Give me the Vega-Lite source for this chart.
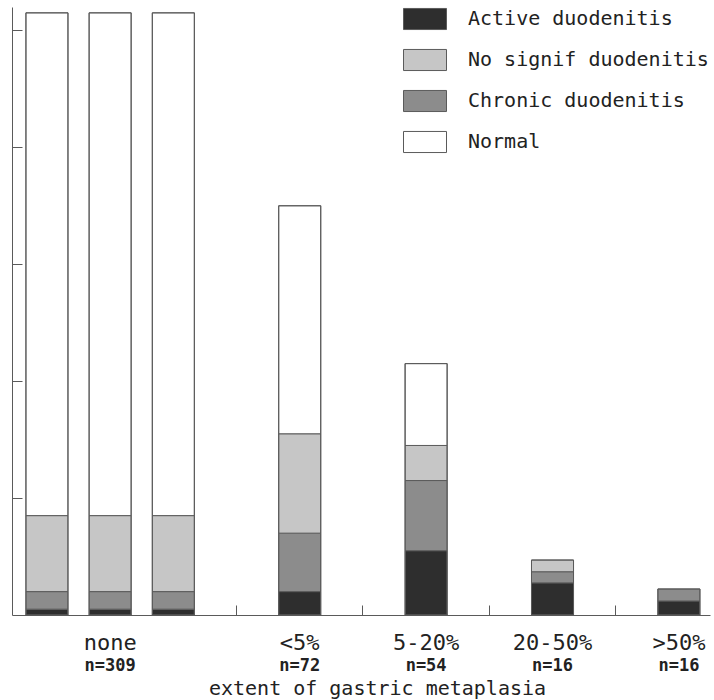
{
  "$schema": "https://vega.github.io/schema/vega-lite/v6.json",
  "width": 698,
  "height": 608,
  "autosize": {"type": "none"},
  "padding": {"left": 12, "top": 7, "right": 4, "bottom": 85},
  "background": "white",
  "config": {"view": {"stroke": null}, "font": "DejaVu Sans Mono"},
  "data": {
    "values": [
      {"column": "none-1", "status": "Active duodenitis", "cases": 1},
      {"column": "none-1", "status": "Chronic duodenitis", "cases": 3},
      {"column": "none-1", "status": "No signif duodenitis", "cases": 13},
      {"column": "none-1", "status": "Normal", "cases": 86},
      {"column": "none-2", "status": "Active duodenitis", "cases": 1},
      {"column": "none-2", "status": "Chronic duodenitis", "cases": 3},
      {"column": "none-2", "status": "No signif duodenitis", "cases": 13},
      {"column": "none-2", "status": "Normal", "cases": 86},
      {"column": "none-3", "status": "Active duodenitis", "cases": 1},
      {"column": "none-3", "status": "Chronic duodenitis", "cases": 3},
      {"column": "none-3", "status": "No signif duodenitis", "cases": 13},
      {"column": "none-3", "status": "Normal", "cases": 86},
      {"column": "<5%", "status": "Active duodenitis", "cases": 4},
      {"column": "<5%", "status": "Chronic duodenitis", "cases": 10},
      {"column": "<5%", "status": "No signif duodenitis", "cases": 17},
      {"column": "<5%", "status": "Normal", "cases": 39},
      {"column": "5-20%", "status": "Active duodenitis", "cases": 11},
      {"column": "5-20%", "status": "Chronic duodenitis", "cases": 12},
      {"column": "5-20%", "status": "No signif duodenitis", "cases": 6},
      {"column": "5-20%", "status": "Normal", "cases": 14},
      {"column": "20-50%", "status": "Active duodenitis", "cases": 5.5},
      {"column": "20-50%", "status": "Chronic duodenitis", "cases": 1.9},
      {"column": "20-50%", "status": "No signif duodenitis", "cases": 2},
      {"column": ">50%", "status": "Active duodenitis", "cases": 2.4},
      {"column": ">50%", "status": "Chronic duodenitis", "cases": 2.05}
    ]
  },
  "transform": [
    {"calculate": "indexof(['Active duodenitis','Chronic duodenitis','No signif duodenitis','Normal'], datum.status)", "as": "stack_rank"}
  ],
  "resolve": {"axis": {"x": "independent"}},
  "layer": [
    {
      "mark": {"type": "bar", "stroke": "#5a5a5a", "strokeWidth": 1},
      "encoding": {
        "x": {
          "field": "column",
          "type": "nominal",
          "scale": {
            "domain": ["none-1", "none-2", "none-3", "gap-1", "<5%", "gap-2", "5-20%", "gap-3", "20-50%", "gap-4", ">50%"],
            "paddingInner": 0.335,
            "paddingOuter": 0.19,
            "align": 0.58
          },
          "axis": {
            "orient": "bottom",
            "values": ["none-2", "gap-1", "<5%", "gap-2", "5-20%", "gap-3", "20-50%", "gap-4", ">50%"],
            "labelExpr": "indexof(['gap-1','gap-2','gap-3','gap-4'], datum.value) >= 0 ? '' : (datum.value == 'none-2' ? 'none' : datum.value)",
            "ticks": true,
            "tickSize": -10,
            "tickColor": "#5a5a5a",
            "tickWidth": 1,
            "tickOpacity": {"condition": {"test": "indexof(['gap-1','gap-2','gap-3','gap-4'], datum.value) >= 0", "value": 1}, "value": 0},
            "domain": true,
            "domainColor": "#5a5a5a",
            "domainWidth": 1,
            "grid": false,
            "labelFont": "DejaVu Sans Mono",
            "labelFontSize": 22,
            "labelColor": "#222222",
            "labelBaseline": "alphabetic",
            "labelPadding": 44,
            "labelAngle": 0,
            "labelOverlap": false,
            "title": null
          }
        },
        "y": {
          "field": "cases",
          "type": "quantitative",
          "stack": "zero",
          "scale": {"domain": [0, 104], "nice": false},
          "axis": {
            "values": [20, 40, 60, 80, 100],
            "tickSize": -10,
            "tickColor": "#5a5a5a",
            "domainColor": "#5a5a5a",
            "labels": false,
            "grid": false,
            "title": null
          }
        },
        "color": {
          "field": "status",
          "type": "nominal",
          "scale": {
            "domain": ["Active duodenitis", "No signif duodenitis", "Chronic duodenitis", "Normal"],
            "range": ["#2e2e2e", "#c6c6c6", "#8c8c8c", "#ffffff"]
          },
          "legend": {
            "orient": "none",
            "legendX": 391,
            "legendY": -10,
            "title": null,
            "padding": 0,
            "symbolType": "M-1,-0.49H1V0.49H-1Z",
            "symbolSize": 1849,
            "symbolStrokeColor": "#5a5a5a",
            "symbolStrokeWidth": 1,
            "symbolOpacity": 1,
            "labelFont": "DejaVu Sans Mono",
            "labelFontSize": 20,
            "labelColor": "#222222",
            "labelOffset": 21,
            "labelLimit": 400,
            "rowPadding": 6
          }
        },
        "order": {"field": "stack_rank", "type": "quantitative"}
      }
    },
    {
      "mark": {"type": "bar", "fillOpacity": 0, "stroke": "#5a5a5a", "strokeWidth": 1},
      "encoding": {
        "x": {
          "field": "column",
          "type": "nominal",
          "axis": {
            "orient": "bottom",
            "values": ["none-2", "<5%", "5-20%", "20-50%", ">50%"],
            "labelExpr": "datum.value == 'none-2' ? 'n=309' : datum.value == '<5%' ? 'n=72' : datum.value == '5-20%' ? 'n=54' : 'n=16'",
            "ticks": false,
            "domain": false,
            "grid": false,
            "labelFont": "DejaVu Sans Mono",
            "labelFontSize": 17,
            "labelFontWeight": "bold",
            "labelColor": "#222222",
            "labelBaseline": "alphabetic",
            "labelPadding": 55,
            "labelAngle": 0,
            "labelOverlap": false,
            "title": "extent of gastric metaplasia",
            "titleFont": "DejaVu Sans Mono",
            "titleFontSize": 20,
            "titleFontWeight": "normal",
            "titleColor": "#222222",
            "titleAlign": "center",
            "titleBaseline": "alphabetic",
            "titleX": 365,
            "titleY": 79
          }
        },
        "y": {
          "aggregate": "sum",
          "field": "cases",
          "type": "quantitative",
          "scale": {"domain": [0, 104], "nice": false},
          "axis": {
            "values": [20, 40, 60, 80, 100],
            "tickSize": -10,
            "tickColor": "#5a5a5a",
            "domainColor": "#5a5a5a",
            "labels": false,
            "grid": false,
            "title": null
          }
        }
      }
    }
  ]
}
